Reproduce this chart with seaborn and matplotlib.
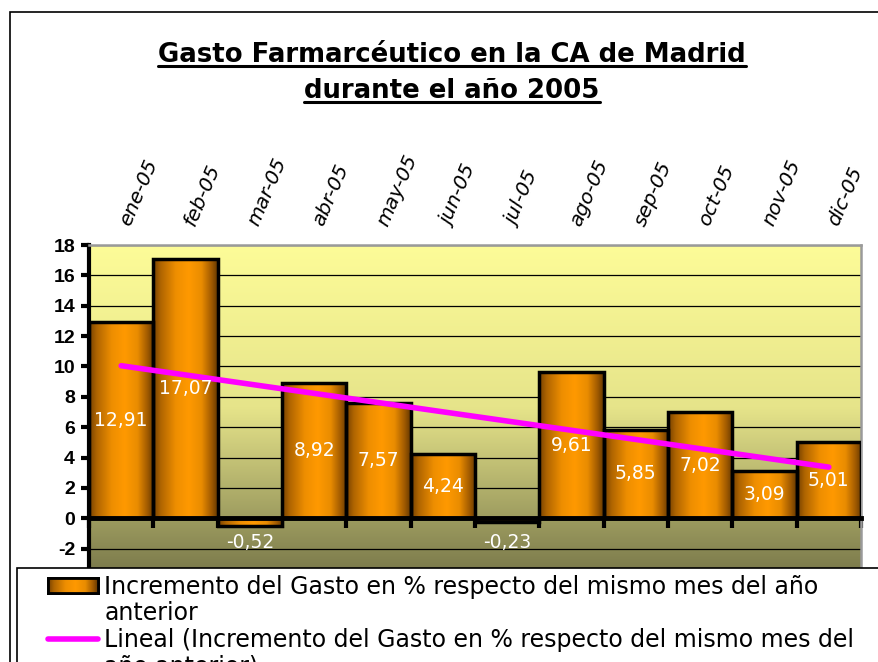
import numpy as np
import pandas as pd
import matplotlib
matplotlib.use("Agg")
import matplotlib.pyplot as plt
import matplotlib.transforms as mtransforms
import seaborn as sns
from matplotlib.patches import Rectangle, Patch
from matplotlib.lines import Line2D
from matplotlib.colors import LinearSegmentedColormap

# ---------------- data ----------------
months = ["ene-05", "feb-05", "mar-05", "abr-05", "may-05", "jun-05",
          "jul-05", "ago-05", "sep-05", "oct-05", "nov-05", "dic-05"]
values = [12.91, 17.07, -0.52, 8.92, 7.57, 4.24, -0.23, 9.61, 5.85, 7.02, 3.09, 5.01]
y_ticks = [-2, 0, 2, 4, 6, 8, 10, 12, 14, 16, 18]
title_lines = ["Gasto Farmarcéutico en la CA de Madrid", "durante el año 2005"]
legend_labels = ["Incremento del Gasto en % respecto del mismo mes del año",
                 "anterior",
                 "Lineal (Incremento del Gasto en % respecto del mismo mes del",
                 "año anterior)"]

sns.set_theme(style="white")
plt.rcParams["font.family"] = ["DejaVu Sans"]
plt.rcParams["text.color"] = "black"
plt.rcParams["axes.labelcolor"] = "black"
plt.rcParams["xtick.color"] = "black"
plt.rcParams["ytick.color"] = "black"

W, H = 879, 662
fig = plt.figure(figsize=(W / 100, H / 100), dpi=100)
fig.patch.set_facecolor("white")

ax = fig.add_axes([89 / W, 1 - 570 / H, (861 - 89) / W, (570 - 245) / H])

df = pd.DataFrame({"mes": months, "valor": values})
sns.barplot(data=df, x="mes", y="valor", ax=ax, width=1.0, color="#FF9900",
            saturation=1, edgecolor="black", linewidth=2.5, zorder=3)
bars = list(ax.patches)

# background gradient of the plot area
bg_cmap = LinearSegmentedColormap.from_list("bg", ["#FDFC98", "#E6E48A", "#7C7B4C"])
ax.imshow(np.linspace(0, 1, 256).reshape(-1, 1), cmap=bg_cmap, origin="upper",
          extent=[0, 1, 0, 1], transform=ax.transAxes, aspect="auto", zorder=0)

# bar gradient (horizontal, dark edges, bright orange centre)
bar_cmap = LinearSegmentedColormap.from_list(
    "bar", [(0.0, "#744000"), (0.12, "#B06500"), (0.35, "#EE8E00"),
            (0.55, "#FF9900"), (0.75, "#E98C00"), (0.9, "#A25B00"), (1.0, "#643800")])
grad = np.linspace(0, 1, 256).reshape(1, -1)
for p in bars:
    x0, y0, w, h = p.get_x(), p.get_y(), p.get_width(), p.get_height()
    im = ax.imshow(grad, cmap=bar_cmap, aspect="auto", zorder=2.5,
                   extent=[x0, x0 + w, min(y0, y0 + h), max(y0, y0 + h)])
    im.set_clip_path(p)
    p.set_facecolor("none")
    p.set_zorder(3)

# linear trend
xs = np.arange(len(values))
coef = np.polyfit(xs, values, 1)
ax.plot(xs, np.polyval(coef, xs), color="#FF00FF", lw=4, zorder=4,
        solid_capstyle="round")

# value labels
for i, v in enumerate(values):
    ypos = v / 2 if v >= 0 else -1.6
    ax.text(i, ypos, f"{v:.2f}".replace(".", ","), ha="center", va="center",
            color="white", fontsize=13.5, zorder=6)

# month labels on top
trans = mtransforms.blended_transform_factory(ax.transData, ax.transAxes)
for i, m in enumerate(months):
    ax.text(i + 0.06, 1.062, m, transform=trans, rotation=67, rotation_mode="anchor",
            ha="left", va="center", fontsize=14.5, style="italic", clip_on=False,
            color="black")

ax.set_xlim(-0.5, len(values) - 0.5)
ax.set_ylim(-3.4, 18)
ax.set_aspect("auto")
ax.set_xlabel("")
ax.set_ylabel("")

ax.set_yticks(y_ticks)
ax.set_yticklabels([str(t) for t in y_ticks], fontsize=14, fontweight="bold",
                   family="Liberation Sans", color="black")
ax.set_xticks(np.arange(-0.5, len(values), 1))
ax.set_xticklabels([])
ax.tick_params(axis="y", left=True, direction="out", length=6, width=3,
               color="black", pad=4)
ax.tick_params(axis="x", bottom=True, direction="out", length=7, width=3,
               color="black")
ax.set_axisbelow(True)
ax.yaxis.grid(True, color="black", lw=0.9)
ax.xaxis.grid(False)

ax.spines["left"].set_linewidth(3)
ax.spines["left"].set_color("black")
ax.spines["bottom"].set_position(("data", 0))
ax.spines["bottom"].set_linewidth(3.5)
ax.spines["bottom"].set_color("black")
ax.spines["bottom"].set_zorder(5)
for s in ("top", "right"):
    ax.spines[s].set_color("#9A9A9A")
    ax.spines[s].set_linewidth(1.8)

# outer chart border
fig.add_artist(Rectangle((10 / W, -0.1), 1.2, 1 - 12 / H + 0.1,
                         transform=fig.transFigure, fill=False,
                         edgecolor="black", lw=1.2, zorder=-1))

# title with underline
title_y = [62, 98]
tts = []
for txt, yb in zip(title_lines, title_y):
    t = fig.text(452 / W, 1 - yb / H, txt, ha="center", va="baseline",
                 fontsize=18.7, fontweight="bold", color="black")
    tts.append((t, yb))

# legend box
fig.add_artist(Rectangle((17 / W, -0.1), 1.2, 1 - 568 / H + 0.1,
                         transform=fig.transFigure, facecolor="white",
                         edgecolor="black", lw=1.2, zorder=4))
handles = [Patch(facecolor="#E88A00", edgecolor="black", lw=2),
           Line2D([], [], alpha=0),
           Line2D([0, 1], [0, 0], color="#FF00FF", lw=4),
           Line2D([], [], alpha=0)]
leg = fig.legend(handles, legend_labels, loc="upper left",
                 bbox_to_anchor=(48 / W, 1 - 575 / H), frameon=False,
                 prop={"family": "DejaVu Sans", "size": 17},
                 borderpad=0, borderaxespad=0, handlelength=2.1,
                 handleheight=0.6, handletextpad=0.28, labelspacing=0.1,
                 labelcolor="black")
leg.set_zorder(5)

fig.canvas.draw()
r = fig.canvas.get_renderer()
for t, yb in tts:
    bb = t.get_window_extent(r)
    yy = 1 - (yb + 4) / H
    fig.add_artist(Line2D([bb.x0 / W, bb.x1 / W], [yy, yy],
                          transform=fig.transFigure, color="black", lw=2.2))

# gradient inside the legend's bar swatch
hb = leg.legend_handles[0].get_window_extent(r)
cax = fig.add_axes([hb.x0 / W, hb.y0 / H, hb.width / W, hb.height / H])
cax.imshow(grad, cmap=bar_cmap, aspect="auto")
cax.set_xticks([])
cax.set_yticks([])
for s in cax.spines.values():
    s.set_visible(True)
    s.set_color("black")
    s.set_linewidth(2)
cax.set_zorder(6)

fig.savefig("out.png", dpi=100)
